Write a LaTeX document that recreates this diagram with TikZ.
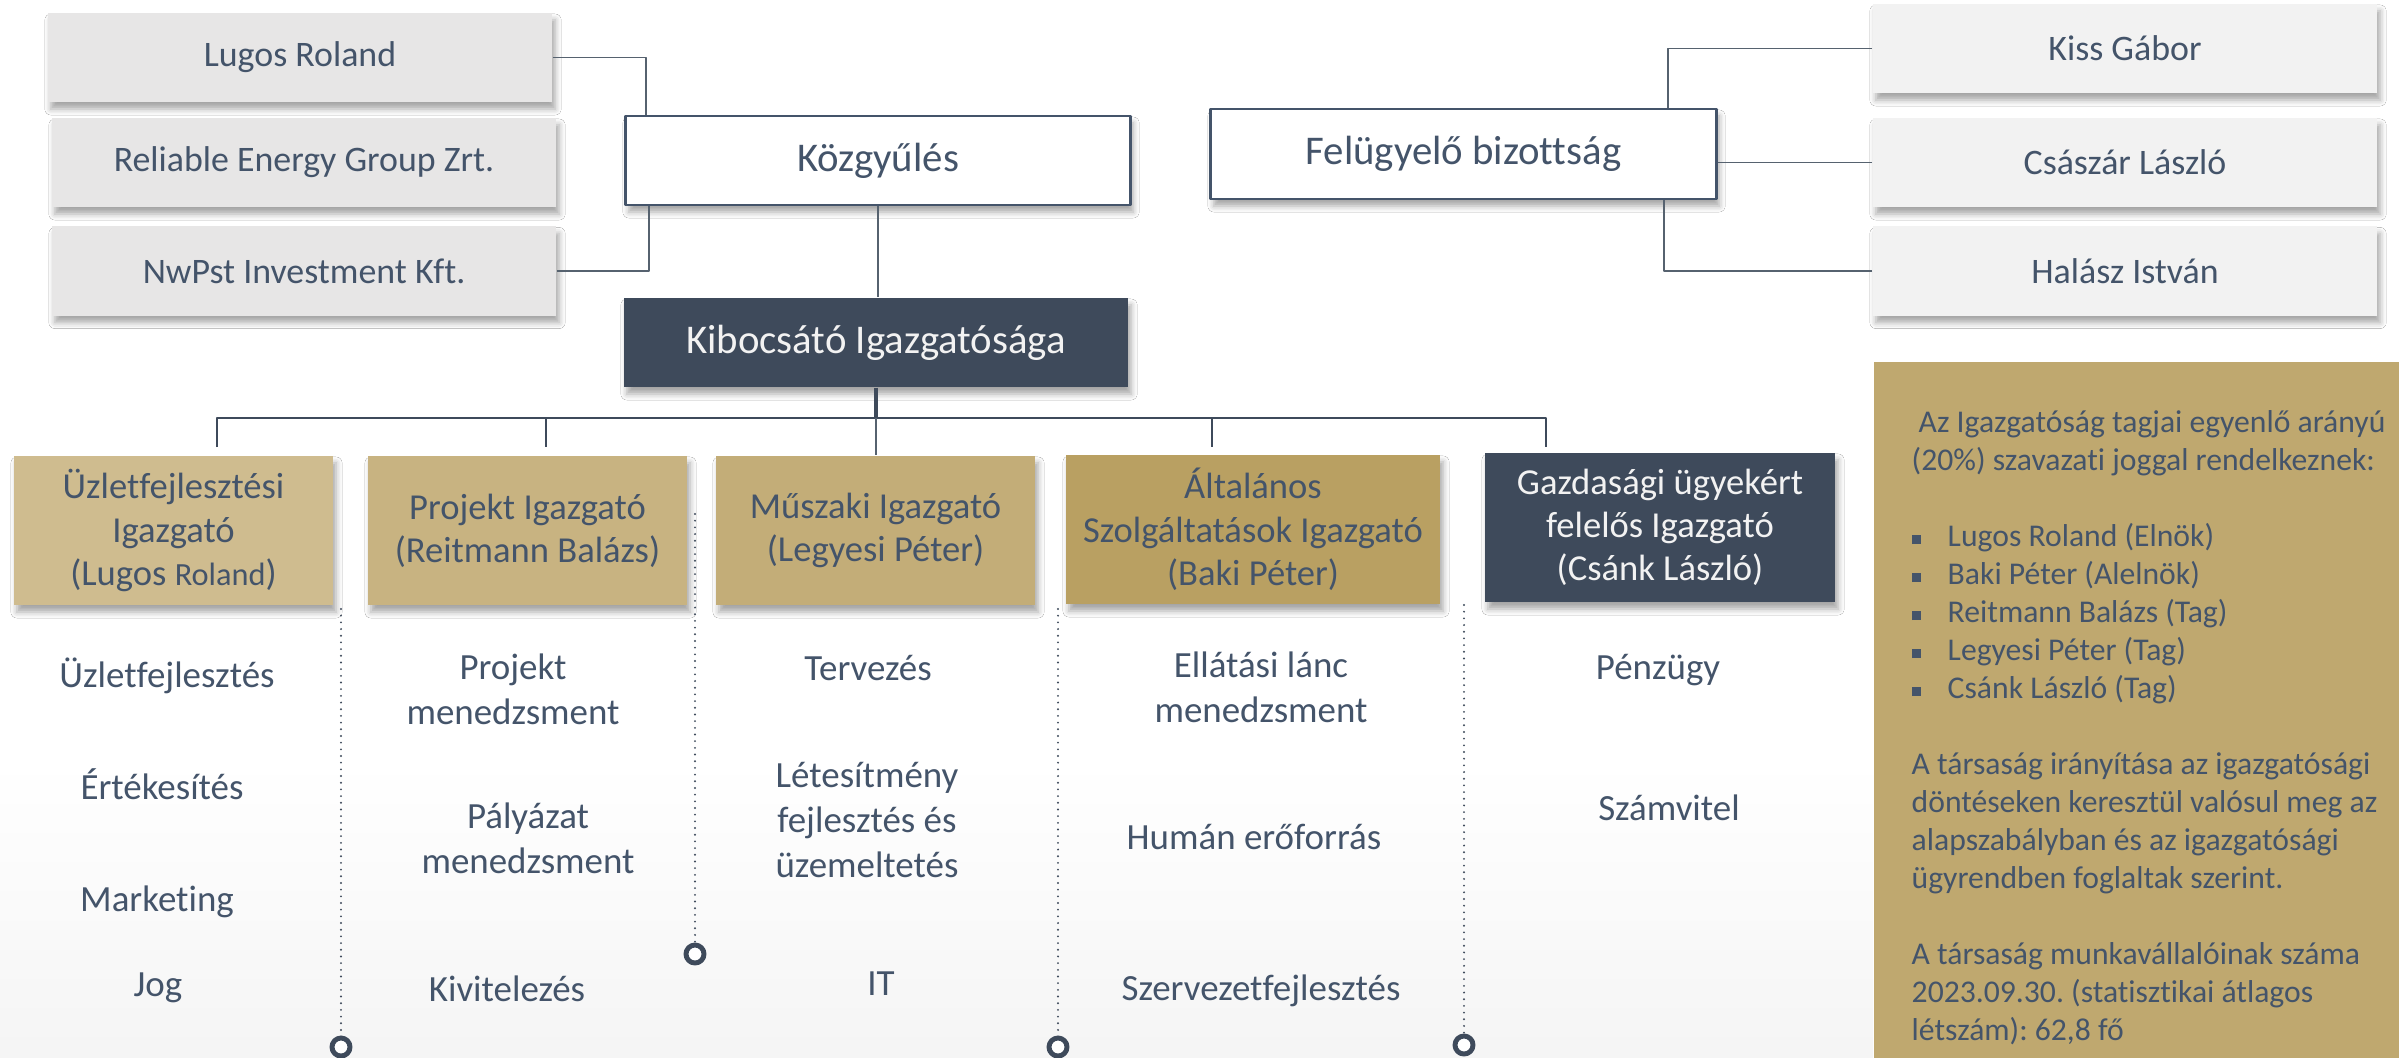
\documentclass[tikz,border=0pt]{standalone}
\usepackage{fontspec}
\setmainfont{Carlito}[Ligatures={NoCommon}]
\usetikzlibrary{calc,shadows.blur}
\definecolor{szoveg}{HTML}{44546A}
\definecolor{sotet}{HTML}{3E4A5B}
\definecolor{vonal}{HTML}{56626F}
\definecolor{szurke}{HTML}{E7E6E6}
\definecolor{halvany}{HTML}{F2F2F2}
\definecolor{arany1}{HTML}{CFBC8F}
\definecolor{arany2}{HTML}{C8B381}
\definecolor{arany3}{HTML}{C3AD78}
\definecolor{arany4}{HTML}{B9A062}
\definecolor{arany5}{HTML}{BFA86F}
\newcommand{\pont}{\makebox[0.36cm][l]{\raisebox{0.7pt}{\rule{0.095cm}{0.095cm}}}}
\frenchspacing
\begin{document}
\begin{tikzpicture}[x=0.01cm, y=-0.01cm, line join=round, text=szoveg,
    arnyek/.style={blur shadow={shadow xshift=0.03cm, shadow yshift=-0.07cm, shadow blur radius=0.06cm, shadow opacity=35}},
    doboz/.style={arnyek, minimum width=5.04cm, minimum height=0.89cm, inner sep=0pt, font=\fontsize{10.2}{12}\selectfont},
    tagdoboz/.style={doboz, fill=szurke},
    fbtag/.style={doboz, fill=halvany},
    testulet/.style={doboz, fill=white, draw=szoveg, line width=0.8pt, font=\fontsize{11.6}{14}\selectfont},
    fej/.style={arnyek, minimum width=3.19cm, minimum height=1.49cm, inner sep=0pt, align=center, font=\fontsize{10.4}{12.3}\selectfont},
    feladat/.style={align=center, inner sep=0pt, font=\fontsize{10.5}{12.8}\selectfont},
    vekony/.style={draw=vonal, line width=0.45pt},
    busz/.style={draw=sotet, line width=0.8pt},
    pontozott/.style={draw=sotet, line width=0.6pt, line cap=round, dash pattern=on 0pt off 1.9pt},
    gyuru/.style={draw=sotet, fill=white, line width=1.4pt}]
  \def\busy{418}
  \useasboundingbox (0,0) rectangle (2399,1057);
  \fill[white] (0,0) rectangle (2399,1057);
  \shade[top color=white, bottom color=black!4] (0,760) rectangle (1873,1057);

  % közgyűlés és tulajdonosok
  \node[tagdoboz] (lugos) at (300,57.5) {Lugos Roland};
  \node[tagdoboz] (reg) at (304,162.5) {Reliable Energy Group Zrt.};
  \node[tagdoboz] (nwpst) at (304,271) {NwPst Investment Kft.};
  \node[testulet] (kozgy) at (878,160.5) {Közgyűlés};
  \draw[vekony] (lugos.east) -| ($(kozgy.north west)!0.042!(kozgy.north east)$);
  \draw[vekony] (nwpst.east) -| ($(kozgy.south west)!0.048!(kozgy.south east)$);

  % felügyelő bizottság
  \node[testulet, minimum width=5.05cm, minimum height=0.9cm] (fb) at (1463.5,154) {Felügyelő bizottság};
  \node[fbtag] (kiss) at (2125,48.5) {Kiss Gábor};
  \node[fbtag] (csaszar) at (2125,162.5) {Császár László};
  \node[fbtag] (halasz) at (2125,271) {Halász István};
  \draw[vekony] (kiss.west) -| ($(fb.north west)!0.903!(fb.north east)$);
  \draw[vekony] (csaszar.west) -- (csaszar.west -| fb.east);
  \draw[vekony] (halasz.west) -| ($(fb.south west)!0.895!(fb.south east)$);

  % igazgatóság
  \node[doboz, fill=sotet, text=halvany, font=\fontsize{11.6}{14}\selectfont] (kib) at (876,342.5) {Kibocsátó Igazgatósága};
  \draw[vekony] (kozgy.south) -- (kozgy.south |- kib.north);

  % igazgatók
  \node[fej, fill=arany1] (h1) at (173.5,530.5) {Üzletfejlesztési\\Igazgató\\(Lugos {\fontsize{9.2}{12.3}\selectfont Roland})};
  \node[fej, fill=arany2] (h2) at (527.5,530.5) {Projekt Igazgató\\(Reitmann Balázs)};
  \node[fej, fill=arany3] (h3) at (875.5,530.5) {Műszaki Igazgató\\(Legyesi Péter)};
  \node[fej, fill=arany4, minimum width=3.74cm] (h4) at (1253,529.5) {Általános\\Szolgáltatások Igazgató\\(Baki Péter)};
  \node[fej, fill=sotet, text=halvany, minimum width=3.5cm] (h5) at (1660,527.5) {Gazdasági ügyekért\\felelős Igazgató\\(Csánk László)};

  \coordinate (b1) at (217,\busy);
  \coordinate (b2) at (546,\busy);
  \coordinate (b4) at (1212,\busy);
  \coordinate (b5) at (1546,\busy);
  \draw[busz, line width=1.1pt] (kib.south) -- (kib.south |- b1);
  \draw[busz] ([yshift=-0.29cm]b1) -- (b1) -- (b5) -- ([yshift=-0.29cm]b5);
  \foreach \i in {2,4} \draw[busz] (b\i) -- ([yshift=-0.29cm]b\i);
  \draw[vekony] (kib.south |- b1) -- (kib.south |- h3.north);

  % feladatok
  \node[feladat] (u1) at (167,676) {Üzletfejlesztés};
  \node[feladat] (u2) at (162,784) {Értékesítés};
  \node[feladat] (u3) at (157,902) {Marketing};
  \node[feladat] (u4) at (158,988) {Jog};
  \node[feladat] (p1) at (513,689) {Projekt\\menedzsment};
  \node[feladat] (p2) at (528,838) {Pályázat\\menedzsment};
  \node[feladat] (p3) at (507,989) {Kivitelezés};
  \node[feladat] (m1) at (868,668) {Tervezés};
  \node[feladat] (m2) at (867,820) {Létesítmény\\fejlesztés és\\üzemeltetés};
  \node[feladat] (m3) at (881,984) {IT};
  \node[feladat] (a1) at (1261,687) {Ellátási lánc\\menedzsment};
  \node[feladat] (a2) at (1254,837) {Humán erőforrás};
  \node[feladat] (a3) at (1261,991) {Szervezetfejlesztés};
  \node[feladat] (g1) at (1658,670) {Pénzügy};
  \node[feladat] (g2) at (1669,808) {Számvitel};

  % elválasztók
  \foreach \x/\ya/\yb in {341/609/1047, 695/514/954, 1058/609/1047, 1464/605/1045}{
    \draw[pontozott] (\x,\ya) -- (\x,\yb);
    \draw[gyuru] (\x,\yb) circle (0.09cm);
  }

  % tájékoztató
  \node[fill=arany5, minimum width=5.26cm, minimum height=6.96cm, inner sep=0pt, anchor=north west] (infobox) at (1873,361) {};
  \node[anchor=north west, align=left, inner sep=0pt, font=\fontsize{9}{10.8}\selectfont] (infoszoveg) at (1911,410)
    {\hspace{0.07cm}Az Igazgatóság tagjai egyenlő arányú\\(20\%) szavazati joggal rendelkeznek:\\[10.8pt]
     \pont Lugos Roland (Elnök)\\\pont Baki Péter (Alelnök)\\\pont Reitmann Balázs (Tag)\\
     \pont Legyesi Péter (Tag)\\\pont Csánk László (Tag)\\[10.8pt]
     A társaság irányítása az igazgatósági\\döntéseken keresztül valósul meg az\\
     alapszabályban és az igazgatósági\\ügyrendben foglaltak szerint.\\[10.8pt]
     A társaság munkavállalóinak száma\\2023.09.30. (statisztikai átlagos\\létszám): 62,8 fő};
\end{tikzpicture}
\end{document}
